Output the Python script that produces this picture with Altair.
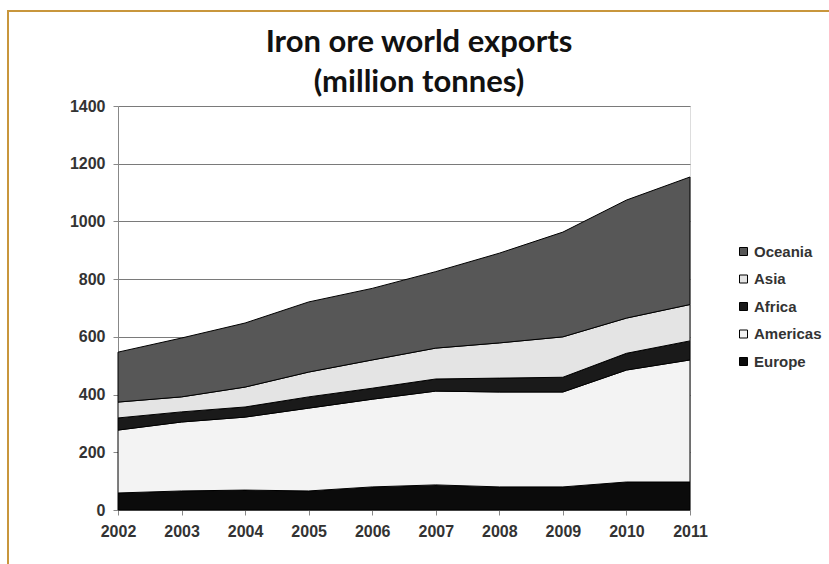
import altair as alt
import pandas as pd

years = [2002, 2003, 2004, 2005, 2006, 2007, 2008, 2009, 2010, 2011]
europe = [59, 66, 69, 66, 80, 87, 80, 80, 97, 97]
americas = [218, 239, 253, 287, 304, 325, 329, 329, 388, 423]
africa = [42, 35, 35, 39, 38, 42, 48, 51, 58, 66]
asia = [55, 52, 69, 86, 98, 107, 122, 140, 122, 126]
oceania = [173, 204, 222, 243, 248, 265, 311, 363, 409, 442]

regions = ["Europe", "Americas", "Africa", "Asia", "Oceania"]
series = [europe, americas, africa, asia, oceania]
legend_order = ["Oceania", "Asia", "Africa", "Americas", "Europe"]
fills = ["#575757", "#e4e4e4", "#1a1a1a", "#f3f3f3", "#0b0b0b"]
title_lines = ["Iron ore world exports", "(million tonnes)"]

rows = []
for i, (name, vals) in enumerate(zip(regions, series)):
    for y, v in zip(years, vals):
        rows.append({"year": y, "region": name, "value": v, "idx": i})
df = pd.DataFrame(rows)
one = pd.DataFrame({"k": [0]})

font = "Liberation Sans"

areas = alt.Chart(df).mark_area(stroke="black", strokeWidth=1, opacity=1).encode(
    x=alt.X("year:Q", scale=alt.Scale(domain=[2002, 2011], nice=False),
            axis=alt.Axis(values=years, format="d", title=None, grid=False,
                          tickSize=5, labelPadding=8, domainColor="#888",
                          labelFlush=False, labelOverlap=False,
                          tickColor="#888", labelFont=font, labelFontSize=16,
                          labelFontWeight="bold", labelColor="#333")),
    y=alt.Y("value:Q", stack="zero", scale=alt.Scale(domain=[0, 1400], nice=False),
            axis=alt.Axis(values=[0, 200, 400, 600, 800, 1000, 1200, 1400], title=None,
                          format="d", labelFlush=False, labelOverlap=False,
                          grid=True, gridColor="#7a7a7a", gridWidth=1.2,
                          tickSize=5, labelPadding=8, domainColor="#888",
                          tickColor="#888", labelFont=font, labelFontSize=16,
                          labelFontWeight="bold", labelColor="#333")),
    color=alt.Color("region:N", scale=alt.Scale(domain=legend_order, range=fills),
                    legend=alt.Legend(title=None, orient="none", legendX=618, legendY=138,
                                      symbolType="square", symbolSize=64,
                                      symbolStrokeColor="black", symbolStrokeWidth=1,
                                      labelFont=font, labelFontSize=15,
                                      labelFontWeight="bold", labelColor="#333",
                                      rowPadding=11.5, labelOffset=3)),
    order=alt.Order("idx:Q", sort="ascending"),
)

frame_top = alt.Chart(one).mark_rule(color="#c8963c", strokeWidth=2).encode(
    x=alt.value(-111), x2=alt.value(711), y=alt.value(-95))
frame_left = alt.Chart(one).mark_rule(color="#c8963c", strokeWidth=2).encode(
    x=alt.value(-110), y=alt.value(-95), y2=alt.value(458))

title = alt.Chart(one).mark_text(
    text=title_lines, font="Lato", fontSize=31, fontWeight="bold", color="#111",
    lineHeight=40, align="center", baseline="middle"
).encode(x=alt.value(301), y=alt.value(-63))

chart = alt.layer(frame_top, frame_left, areas, title).properties(
    width=572, height=404,
    padding={"left": 118, "top": 106, "right": 139, "bottom": 54},
    autosize=alt.AutoSizeParams(type="none"),
).configure_view(stroke=None).configure(background="white")

chart.save("out.html", embed_options={"renderer": "svg", "actions": False})
